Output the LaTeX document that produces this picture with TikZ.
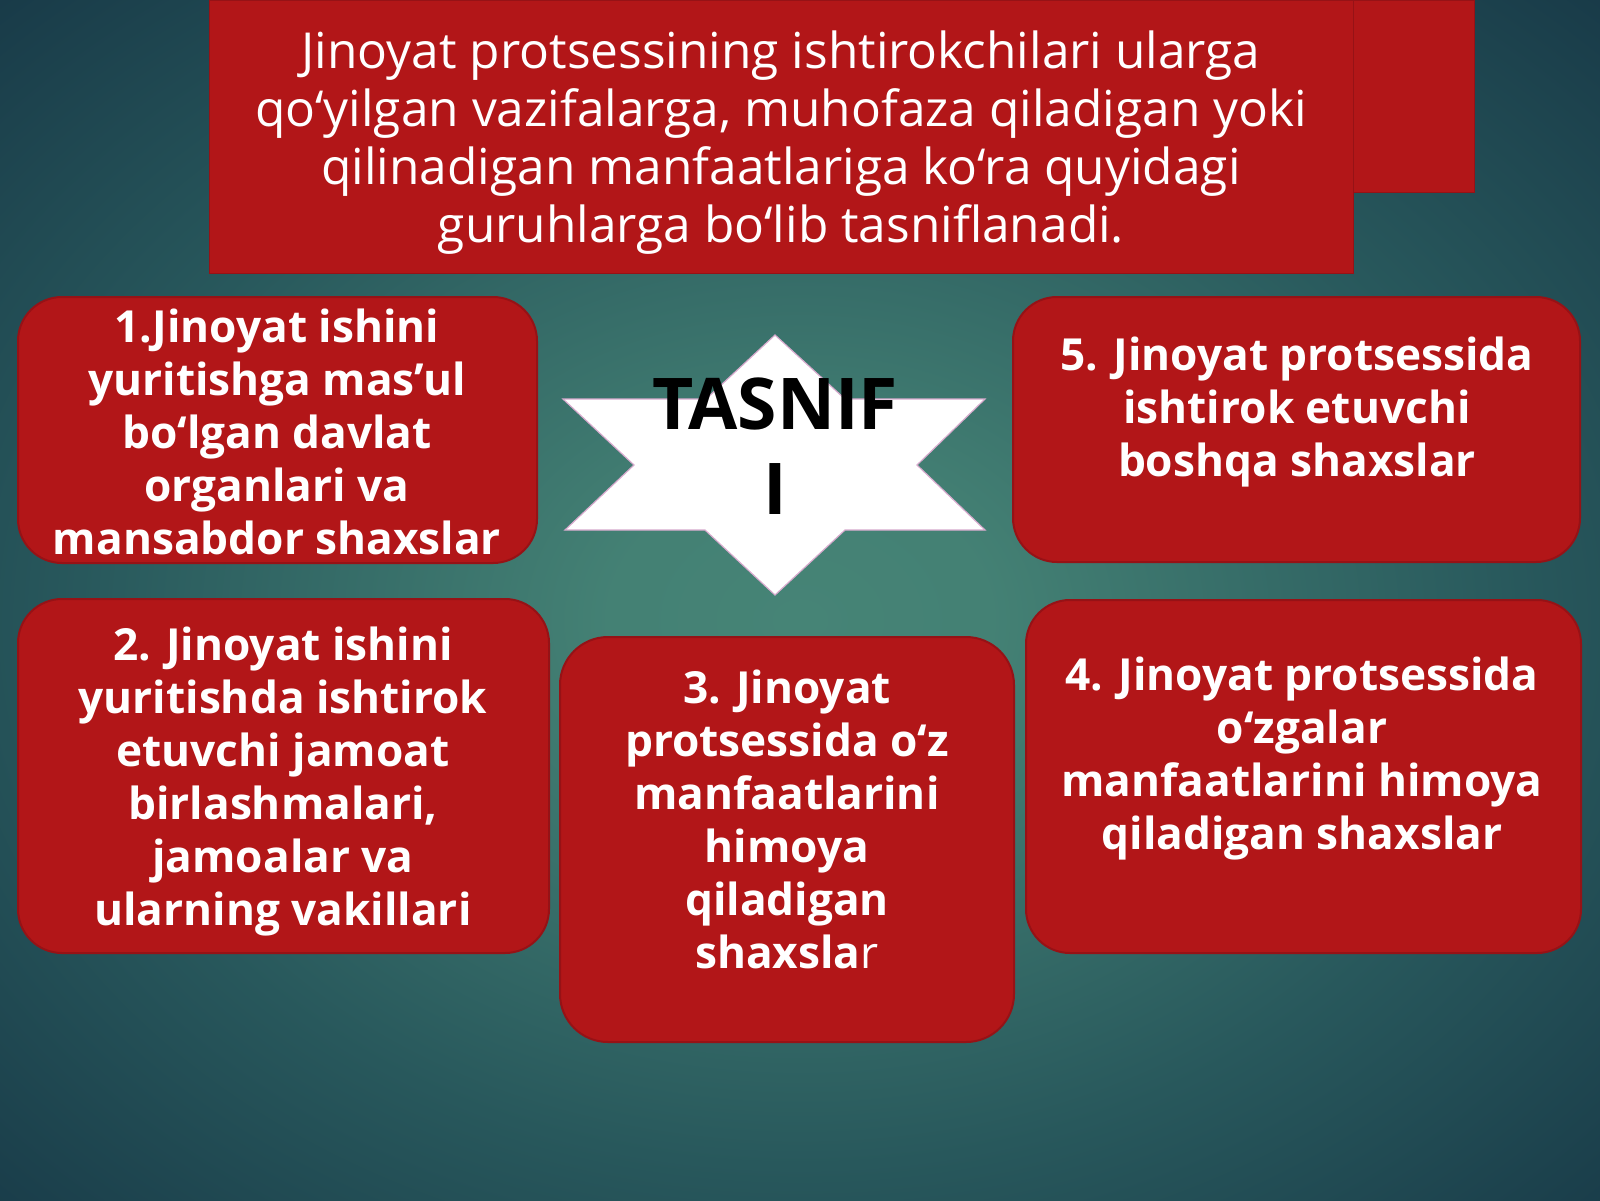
\documentclass[tikz,border=0pt]{standalone}
\usepackage{fontspec}
\setmainfont{Open Sans}
\definecolor{bgin}{RGB}{70,132,118}
\definecolor{bgmid}{RGB}{40,88,92}
\definecolor{bgout}{RGB}{21,52,68}
\definecolor{boxred}{RGB}{178,22,24}
\definecolor{boxedge}{RGB}{150,18,22}
\definecolor{starline}{RGB}{215,170,205}
\pgfdeclareradialshading{bgshade}{\pgfpoint{0bp}{0bp}}{color(0bp)=(bgin); color(6bp)=(bgin!92!bgmid); color(22bp)=(bgmid); color(38bp)=(bgout); color(50bp)=(bgout)}
\begin{document}
\begin{tikzpicture}[x=0.5pt,y=-0.5pt,
  redbox/.style={fill=boxred, draw=boxedge, line width=1pt, rounded corners=22pt, inner sep=0pt},
  boxtext/.style={text=white, font=\bfseries\fontsize{22.1pt}{26.5pt}\selectfont, align=center, inner sep=0pt},
  titletext/.style={text=white, font=\fontsize{24.8pt}{29pt}\selectfont, align=center, inner sep=0pt},
  startext/.style={text=black, font=\bfseries\fontsize{35.7pt}{42.5pt}\selectfont, align=center, inner sep=0pt}]
\useasboundingbox (0,0) rectangle (1600,1200);
\shade[shading=bgshade] (-20,0) rectangle (1620,1240);
% title boxes
\node (back) [fill=boxred, draw=boxedge, line width=0.5pt, inner sep=0pt, minimum width=87pt, minimum height=96pt] at (1387,96) {};
\node (titlebox) [fill=boxred, draw=boxedge, line width=0.5pt, inner sep=0pt, minimum width=572pt, minimum height=136.5pt] at (781,136.5) {};
\node (title) [titletext] at (781,143) {Jinoyat protsessining ishtirokchilari ularga\\qo‘yilgan vazifalarga, muhofaza qiladigan yoki\\qilinadigan manfaatlariga ko‘ra quyidagi\\guruhlarga bo‘lib tasniflanadi.};
% star
\filldraw[fill=white, draw=starline, line width=0.6pt]
  (775,335) -- (845,399) -- (985,399) -- (917,465) -- (985,530) -- (845,530) --
  (775,595) -- (705,530) -- (565,530) -- (634,465) -- (563,399) -- (706,399) -- cycle;
\node (star) [startext] at (775,446) {TASNIF\\I};
% boxes
\node (b1) [redbox, minimum width=259.5pt, minimum height=133pt] at (277.5,430) {};
\node (b5) [redbox, minimum width=283.5pt, minimum height=132.5pt] at (1296.5,429.5) {};
\node (b2) [redbox, minimum width=265.5pt, minimum height=177pt] at (283.5,776) {};
\node (b3) [redbox, minimum width=227pt, minimum height=202.5pt, rounded corners=24pt] at (787,839.5) {};
\node (b4) [redbox, minimum width=277.5pt, minimum height=176.5pt] at (1303.5,776.5) {};
\node (t1) [boxtext] at (277,432) {1.Jinoyat ishini\\yuritishga mas’ul\\bo‘lgan davlat\\organlari va\\mansabdor shaxslar};
\node (t5) [boxtext] at (1297,412) {5. Jinoyat protsessida\\ishtirok etuvchi\\boshqa shaxslar};
\node (t2) [boxtext] at (283,782) {2. Jinoyat ishini\\yuritishda ishtirok\\etuvchi jamoat\\birlashmalari,\\jamoalar va\\ularning vakillari};
\node (t3) [boxtext] at (787,819) {3. Jinoyat\\protsessida o‘z\\manfaatlarini\\himoya\\qiladigan\\shaxsla{\mdseries r}};
\node (t4) [boxtext] at (1302,759) {4. Jinoyat protsessida\\o‘zgalar\\manfaatlarini himoya\\qiladigan shaxslar};
\end{tikzpicture}
\end{document}
